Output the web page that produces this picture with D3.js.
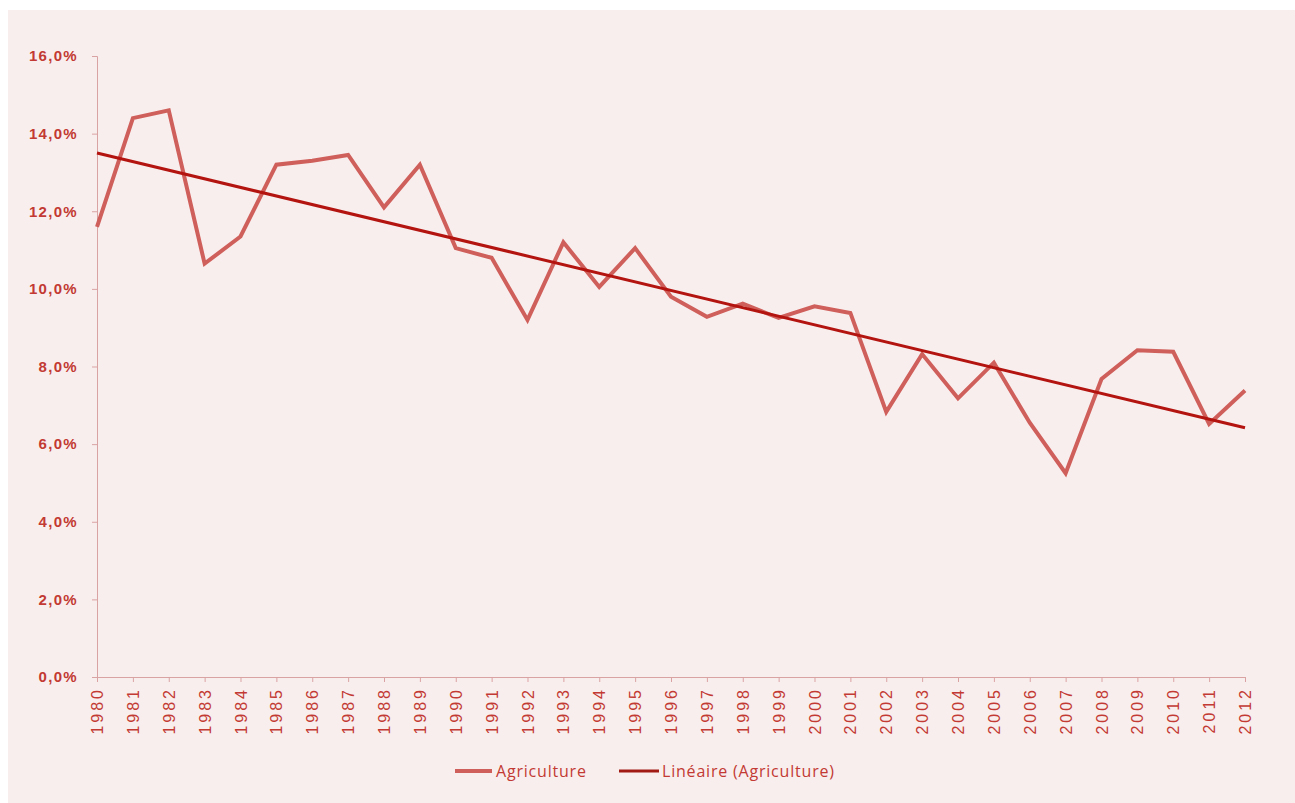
<!DOCTYPE html>
<html><head><meta charset="utf-8">
<script src="https://cdn.jsdelivr.net/npm/d3@7"></script>
<style>body{margin:0;background:#fff;}svg{display:block;font-family:"Open Sans","Noto Sans",sans-serif;}</style>
</head><body>
<svg id="c" width="1295" height="803"></svg>
<script>
const years = [1980,1981,1982,1983,1984,1985,1986,1987,1988,1989,1990,1991,1992,1993,1994,1995,1996,1997,1998,1999,2000,2001,2002,2003,2004,2005,2006,2007,2008,2009,2010,2011,2012];
const agriculture = [11.6,14.4,14.6,10.65,11.35,13.2,13.3,13.45,12.1,13.2,11.05,10.8,9.2,11.2,10.05,11.05,9.8,9.28,9.62,9.25,9.55,9.38,6.83,8.32,7.18,8.1,6.55,5.25,7.68,8.42,8.38,6.52,7.38];
const trendYears = [1980, 2012];
const trendValues = [13.5, 6.42];
const yTicks = [0,2,4,6,8,10,12,14,16];
const legendLabels = ["Agriculture", "Linéaire (Agriculture)"];

const svg = d3.select("#c");
svg.append("rect").attr("x",8).attr("y",10).attr("width",1287).attr("height",793).attr("fill","#f9eeee");

const x = d3.scaleLinear().domain([1980,2012]).range([97,1245]);
const y = d3.scaleLinear().domain([0,16]).range([677,56]);
const textCol = "#c23a33";
const axisCol = "#d9a3a3";

const fmt = v => d3.format(".1f")(v).replace(".", ",") + "%";

const yAxis = svg.append("g").attr("transform","translate(97,0)")
  .call(d3.axisLeft(y).tickValues(yTicks).tickFormat(fmt).tickSize(5).tickPadding(14));
yAxis.select(".domain").attr("stroke",axisCol);
yAxis.selectAll(".tick line").attr("stroke",axisCol);
yAxis.selectAll("text").attr("fill",textCol).attr("font-size",15).attr("font-weight",600)
  .style("letter-spacing","1.3px");

const xAxis = svg.append("g").attr("transform","translate(0,677)")
  .call(d3.axisBottom(x).tickValues(years).tickFormat(d3.format("d")).tickSize(5).tickPadding(3));
xAxis.select(".domain").attr("stroke",axisCol);
xAxis.selectAll(".tick line").attr("stroke",axisCol);
xAxis.selectAll("text").attr("fill",textCol).attr("font-size",16)
  .attr("transform","rotate(-90)").attr("text-anchor","end").attr("dx","-10").attr("dy","0.35em")
  .attr("x",0).attr("y",0).style("letter-spacing","3px");

const line = d3.line().x((d,i)=>x(years[i])).y(d=>y(d));
svg.append("path").datum(agriculture).attr("d",line).attr("fill","none")
  .attr("stroke","#cf5f5a").attr("stroke-width",4).attr("stroke-linejoin","miter");

const tline = d3.line().x((d,i)=>x(trendYears[i])).y(d=>y(d));
svg.append("path").datum(trendValues).attr("d",tline).attr("fill","none")
  .attr("stroke","#b3140f").attr("stroke-width",3);

const lg = svg.append("g");
const legendItems = [
  {x0:455, x1:492, tx:496, col:"#cf5f5a", w:4},
  {x0:619, x1:659, tx:662, col:"#a11a14", w:3}
];
legendItems.forEach((it,i)=>{
  lg.append("line").attr("x1",it.x0).attr("x2",it.x1).attr("y1",771).attr("y2",771)
    .attr("stroke",it.col).attr("stroke-width",it.w);
  lg.append("text").attr("x",it.tx).attr("y",777).attr("fill",textCol).attr("font-size",16)
    .style("letter-spacing","0.8px").text(legendLabels[i]);
});
</script>
</body></html>
